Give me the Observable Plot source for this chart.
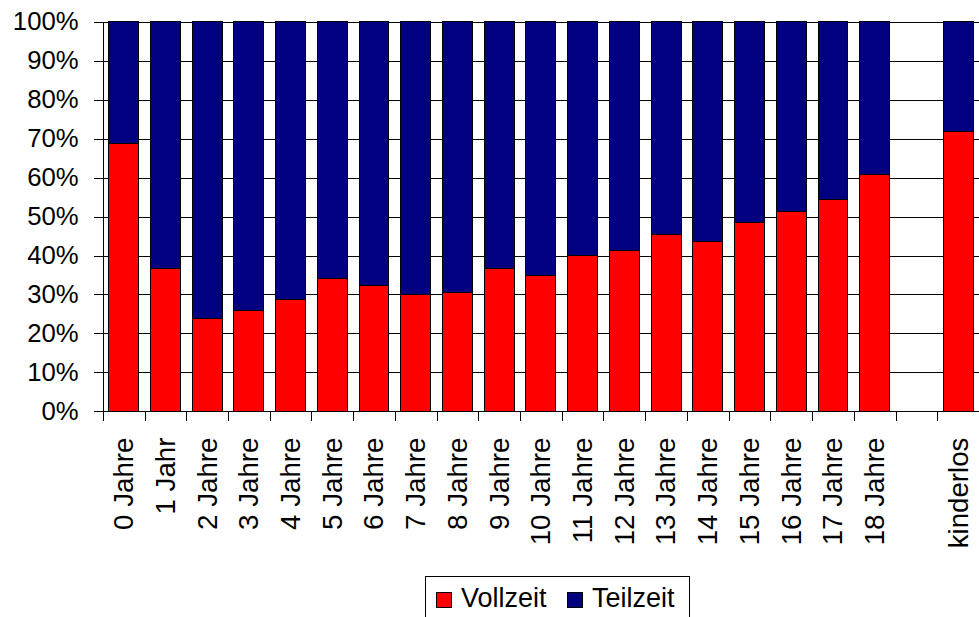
<!DOCTYPE html>
<html>
<head>
<meta charset="utf-8">
<script src="https://cdn.jsdelivr.net/npm/d3@7"></script>
<script src="https://cdn.jsdelivr.net/npm/@observablehq/plot@0.6"></script>
<style>
  html, body { margin: 0; padding: 0; background: #fff; overflow: hidden; }
  #wrap { position: relative; width: 979px; height: 617px; overflow: hidden; font-family: "Liberation Sans", Arial, sans-serif; }
  #wrap svg { position: absolute; left: 0; top: 0; }
  #legend { position: absolute; left: 425px; top: 576px; width: 265px; height: 60px; border: 1px solid #000; box-sizing: border-box; background: #fff; font-size: 27px; color: #000; }
  #legend .item { position: absolute; top: 6px; line-height: 31px; white-space: nowrap; }
  #legend .sw { display: inline-block; width: 16px; height: 16px; border: 1px solid #000; box-sizing: border-box; margin-right: 9px; vertical-align: -1px; }
</style>
</head>
<body>
<div id="wrap"><div id="legend"></div></div>
<script>
const categories = ["0 Jahre","1 Jahr","2 Jahre","3 Jahre","4 Jahre","5 Jahre","6 Jahre","7 Jahre","8 Jahre","9 Jahre","10 Jahre","11 Jahre","12 Jahre","13 Jahre","14 Jahre","15 Jahre","16 Jahre","17 Jahre","18 Jahre","","kinderlos"];
const vollzeit = [68.7,36.7,23.8,26.0,28.7,34.0,32.3,30.0,30.5,36.7,34.9,39.9,41.3,45.3,43.6,48.4,51.2,54.3,60.7,null,71.9];
const teilzeit = [31.3,63.3,76.2,74.0,71.3,66.0,67.7,70.0,69.5,63.3,65.1,60.1,58.7,54.7,56.4,51.6,48.8,45.7,39.3,null,28.1];
const seriesNames = ["Vollzeit","Teilzeit"];
const seriesColors = ["#ff0000","#000080"];
const yTicks = [0,10,20,30,40,50,60,70,80,90,100];

const rows = [];
categories.forEach((c, i) => {
  if (vollzeit[i] != null) {
    rows.push({i, cat: c, series: seriesNames[0], value: vollzeit[i]});
    rows.push({i, cat: c, series: seriesNames[1], value: teilzeit[i]});
  }
});
const boundaries = d3.range(categories.length + 1);
const centers = categories.map((c, i) => i + 0.5);

const chart = Plot.plot({
  width: 990,
  height: 617,
  marginLeft: 104,
  marginRight: 0,
  marginTop: 22,
  marginBottom: 201,
  style: {fontFamily: "'Liberation Sans', Arial, sans-serif", background: "transparent", color: "#000", overflow: "visible"},
  x: {domain: [0, categories.length], axis: null},
  y: {domain: [0, 100], axis: null},
  color: {domain: seriesNames, range: seriesColors},
  marks: [
    Plot.ruleY(yTicks, {stroke: "#000", strokeWidth: 1, shapeRendering: "crispEdges"}),
    Plot.rectY(rows, Plot.stackY({
      x1: "i", x2: d => d.i + 1, y: "value", fill: "series", order: seriesNames,
      insetLeft: 6, insetRight: 6, stroke: "#000", strokeWidth: 1, shapeRendering: "crispEdges"
    })),
    Plot.ruleX([0], {y1: 0, y2: 100, stroke: "#000", strokeWidth: 1, shapeRendering: "crispEdges"}),
    Plot.axisY({ticks: yTicks, tickFormat: d => d + "%", tickSize: 9, tickPadding: 16, fontSize: 26, strokeOpacity: 1, label: null, shapeRendering: "crispEdges"}),
    Plot.axisX({ticks: boundaries, tickFormat: () => "", tickSize: 10, strokeOpacity: 1, label: null, shapeRendering: "crispEdges"}),
    Plot.axisX({ticks: centers, tickFormat: v => categories[Math.floor(v)], tickSize: 0, tickRotate: -90, tickPadding: 26, fontSize: 28, label: null})
  ]
});
document.getElementById("wrap").prepend(chart);

const legend = document.getElementById("legend");
const itemLeft = [10, 141];
seriesNames.forEach((name, k) => {
  const item = document.createElement("div");
  item.className = "item";
  item.style.left = itemLeft[k] + "px";
  const sw = document.createElement("span");
  sw.className = "sw";
  sw.style.background = seriesColors[k];
  item.appendChild(sw);
  item.appendChild(document.createTextNode(name));
  legend.appendChild(item);
});
</script>
</body>
</html>
